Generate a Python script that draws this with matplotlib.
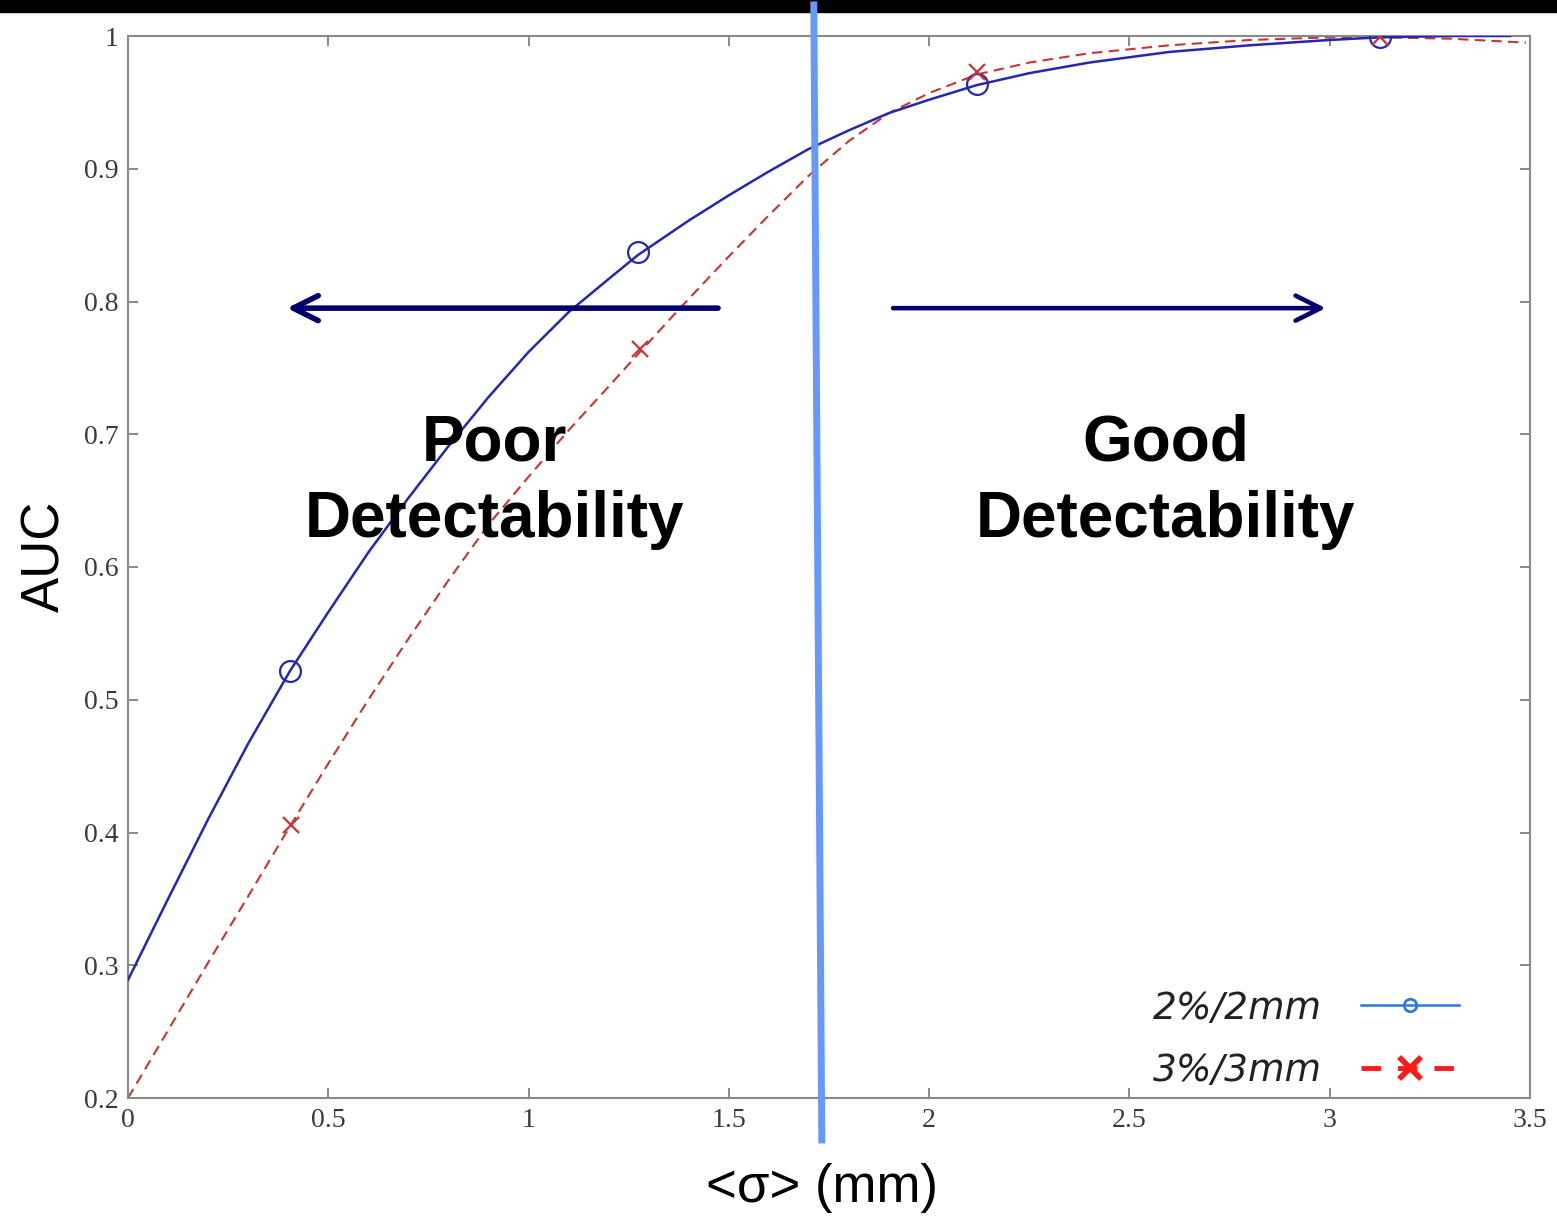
import matplotlib.pyplot as plt
from matplotlib.lines import Line2D
from matplotlib.patches import Rectangle

# fitted curves
sigma_22 = [0, 0.1, 0.2, 0.3, 0.405, 0.5, 0.6, 0.7, 0.8, 0.9, 1.0, 1.1, 1.2, 1.273,
            1.4, 1.5, 1.6, 1.7, 1.8, 1.9, 2.0, 2.119, 2.25, 2.4, 2.6, 2.8, 3.0,
            3.125, 3.3, 3.45]
auc_22 = [0.289, 0.350, 0.410, 0.467, 0.522, 0.566, 0.611, 0.652, 0.691, 0.728, 0.762,
          0.792, 0.817, 0.835, 0.861, 0.880, 0.898, 0.915, 0.929, 0.942, 0.952, 0.963,
          0.972, 0.980, 0.988, 0.993, 0.997, 0.999, 1.0, 1.0]
sigma_33 = [0, 0.1, 0.2, 0.3, 0.407, 0.5, 0.6, 0.7, 0.8, 0.9, 1.0, 1.1, 1.2, 1.278,
            1.378, 1.5, 1.6, 1.7, 1.8, 1.9, 2.0, 2.119, 2.25, 2.4, 2.6, 2.8, 3.0,
            3.125, 3.3, 3.49]
auc_33 = [0.200, 0.251, 0.302, 0.352, 0.406, 0.452, 0.500, 0.546, 0.590, 0.632, 0.668,
          0.703, 0.736, 0.762, 0.795, 0.834, 0.865, 0.895, 0.921, 0.942, 0.957, 0.971,
          0.980, 0.987, 0.993, 0.997, 0.999, 0.999, 0.998, 0.995]

# measured points
pts_sigma_22 = [0.405, 1.273, 2.119, 3.125]
pts_auc_22 = [0.522, 0.837, 0.964, 0.999]
pts_sigma_33 = [0.407, 1.278, 2.119, 3.125]
pts_auc_33 = [0.406, 0.764, 0.973, 0.999]

xticks = [0, 0.5, 1, 1.5, 2, 2.5, 3, 3.5]
xtick_labels = ["0", "0.5", "1", "1.5", "2", "2.5", "3", "3.5"]
yticks = [0.2, 0.3, 0.4, 0.5, 0.6, 0.7, 0.8, 0.9, 1]
ytick_labels = ["0.2", "0.3", "0.4", "0.5", "0.6", "0.7", "0.8", "0.9", "1"]

# annotation positions (data units)
threshold_top = (1.712, 1.0234)
threshold_bottom = (1.732, 0.1684)
arrow_y = 0.795
left_arrow = (1.473, 0.397)
right_arrow = (1.910, 2.990)

blue = "#2626b0"
red = "#cc3333"
navy = "#00006e"

fig = plt.figure(figsize=(15.57, 12.18), dpi=100)
ax = fig.add_axes([128 / 1557, 1 - 1098 / 1218, 1402 / 1557, 1062 / 1218])

ax.plot(sigma_22, auc_22, color=blue, lw=1.8, zorder=3)
ax.plot(pts_sigma_22, pts_auc_22, ls="none", marker="o", ms=15, mfc="none",
        mec=blue, mew=1.6, zorder=4)
ax.plot(sigma_33, auc_33, color=red, lw=1.5, dashes=(5, 3), zorder=2)
ax.plot(pts_sigma_33, pts_auc_33, ls="none", marker="x", ms=11, mec=red,
        mew=1.6, zorder=4)

ax.set_xlim(0, 3.5)
ax.set_ylim(0.2, 1)
ax.set_xticks(xticks)
ax.set_xticklabels(xtick_labels)
ax.set_yticks(yticks)
ax.set_yticklabels(ytick_labels)
ax.tick_params(direction="in", length=7, width=1.3, color="#808080",
               top=True, right=True, labelsize=20, labelcolor="#3a3a3a", pad=7)
for lab in ax.get_xticklabels() + ax.get_yticklabels():
    lab.set_family("Liberation Serif")
for sp in ax.spines.values():
    sp.set_color("#8a8a8a")
    sp.set_linewidth(1.5)

ax.set_ylabel("AUC", fontsize=38, family="Liberation Sans")
ax.yaxis.set_label_coords(-0.041, 0.51)
ax.set_xlabel("<σ> (mm)", fontsize=38, family="Liberation Sans")
ax.xaxis.set_label_coords(0.495, -0.061)

# arrows and region labels
ax.annotate("", xy=(left_arrow[1], arrow_y), xytext=(left_arrow[0], arrow_y),
            arrowprops=dict(arrowstyle="->", lw=4, color=navy, mutation_scale=45,
                            shrinkA=0, shrinkB=0, capstyle="round"))
ax.annotate("", xy=(right_arrow[1], arrow_y), xytext=(right_arrow[0], arrow_y),
            arrowprops=dict(arrowstyle="->", lw=3.3, color=navy, mutation_scale=45,
                            shrinkA=0, shrinkB=0))

txt = dict(fontsize=46, fontweight="bold", family="Liberation Sans",
           ha="center", va="baseline", zorder=6)
ax.text(0.914, 0.6806, "Poor", **txt)
ax.text(0.914, 0.6226, "Detectability", **txt)
ax.text(2.591, 0.6806, "Good", **txt)
ax.text(2.591, 0.6226, "Detectability", **txt)

# legend with its own colours
h22 = Line2D([], [], color="#2a7ad6", lw=1.8, marker="o", ms=9, mfc="none",
             mec="#2a7ad6", mew=2)
h33 = Line2D([], [], color="#ff1a1a", lw=3.5, dashes=(4, 3.5), marker="x",
             ms=16, mec="#ff1a1a", mew=4)
leg = ax.legend([h22, h33], ["2%/2mm", "3%/3mm"], loc="lower right",
                bbox_to_anchor=(0.963, -0.009), frameon=False, markerfirst=False,
                handlelength=2.62, handletextpad=1.05, labelspacing=0.7,
                borderpad=0, prop=dict(family="DejaVu Sans", style="italic", size=27))
for t in leg.get_texts():
    t.set_color("#222222")

# black bar on top, threshold line above it
fig.add_artist(Rectangle((0, 1 - 12 / 1218), 1, 12 / 1218, transform=fig.transFigure,
                         color="black", zorder=5))
fig.add_artist(Line2D([threshold_top[0], threshold_bottom[0]],
                      [threshold_top[1], threshold_bottom[1]],
                      transform=ax.transData, color="#6699ff", lw=5, zorder=7))

fig.savefig("out.png", dpi=100)
